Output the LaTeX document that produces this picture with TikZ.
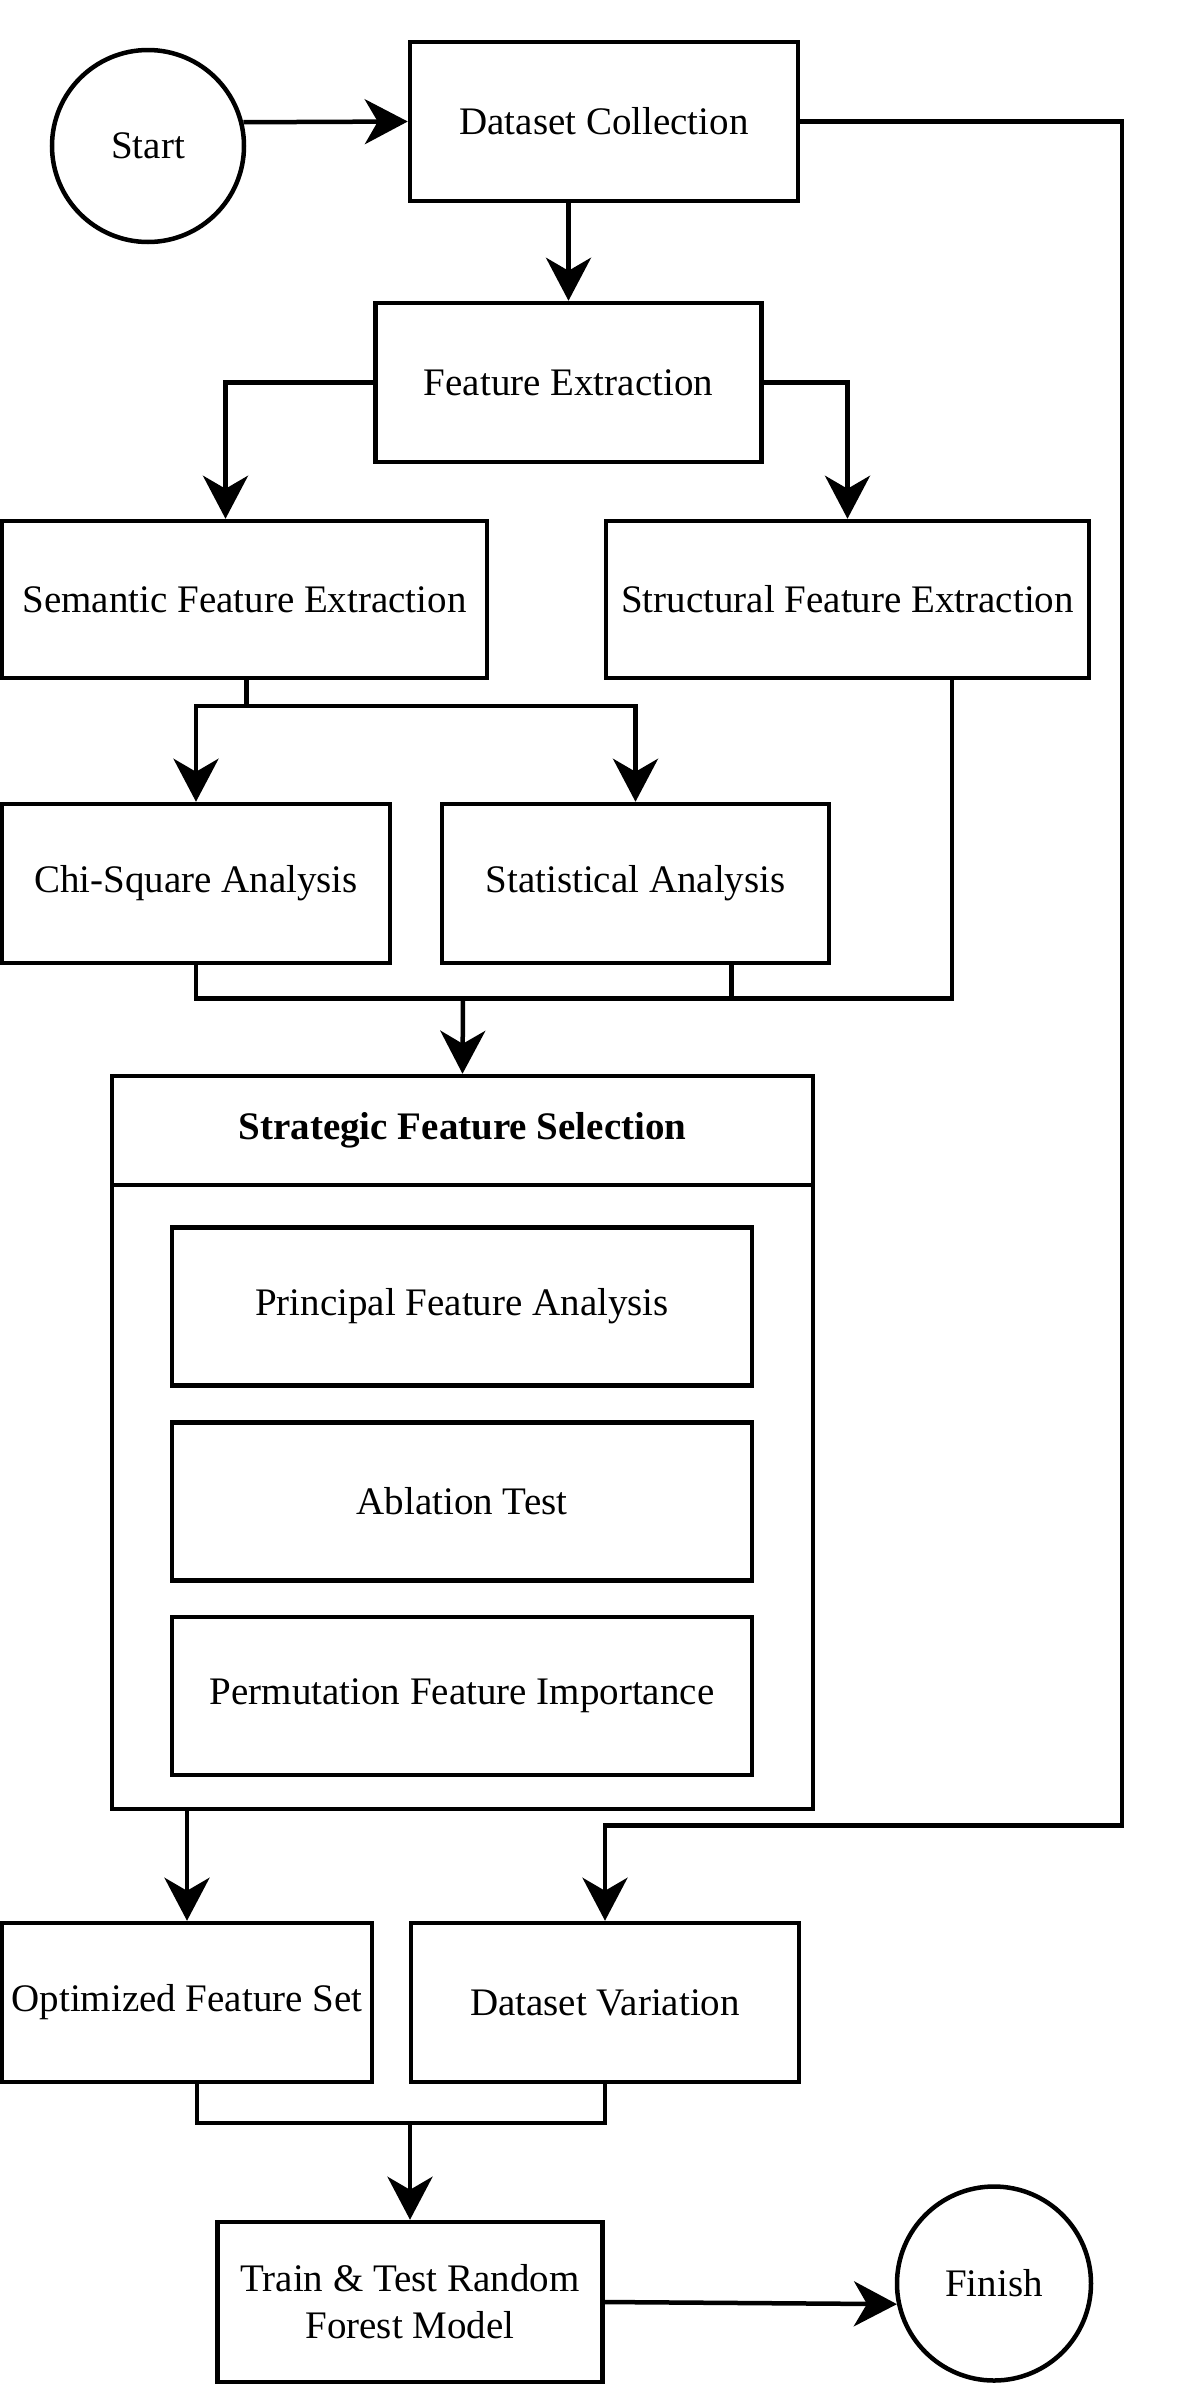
\documentclass[tikz,border=0pt]{standalone}
\usepackage{fontspec}
\setmainfont{Liberation Serif}
\usetikzlibrary{arrows.meta,positioning}

\tikzset{every picture/.style={line width=4.5pt}}
\tikzset{
    stepbox/.style={draw, rectangle, align=center, inner sep=0pt},
    termnode/.style={draw, circle, inner sep=0pt},
    flowarrow/.style={-{Stealth[length=43pt,width=45pt,inset=13pt]}},
}

\begin{document}
\begin{tikzpicture}[x=1pt,y=1pt,yscale=-1,xscale=1,font=\fontsize{39}{47}\selectfont]
    \useasboundingbox (0,0) rectangle (1181,2388);

    %Shape: Circle [start]
    \node (start) at (148,146) [termnode, minimum size=192pt] {Start};
    %Shape: Rectangle [dataset]
    \node (dataset) at (604,121.5) [stepbox, minimum width=388pt, minimum height=159pt] {Dataset Collection};
    %Shape: Rectangle [feature]
    \node (feature) at (568.5,382.5) [stepbox, minimum width=386pt, minimum height=159pt] {Feature Extraction};
    %Shape: Rectangle [semantic]
    \node (semantic) at (244.5,599.5) [stepbox, minimum width=485pt, minimum height=157pt] {Semantic Feature Extraction};
    %Shape: Rectangle [structural]
    \node (structural) at (847.5,599.5) [stepbox, minimum width=483pt, minimum height=157pt] {Structural Feature Extraction};
    %Shape: Rectangle [chi]
    \node (chi) at (196,883.5) [stepbox, minimum width=388pt, minimum height=159pt] {Chi-Square Analysis};
    %Shape: Rectangle [stat]
    \node (stat) at (635.5,883.5) [stepbox, minimum width=387pt, minimum height=159pt] {Statistical Analysis};

    %Shape: Rectangle [strategic block]
    \node (strattitle) at (462.5,1130.5) [stepbox, minimum width=701pt, minimum height=109pt] {\textbf{Strategic Feature Selection}};
    \node (stratbody) at (462.5,1497) [stepbox, minimum width=701pt, minimum height=624pt] {};
    \node (pfa) at (462,1306.5) [stepbox, minimum width=580pt, minimum height=158pt] {Principal Feature Analysis};
    \node (ablation) at (462,1501.5) [stepbox, minimum width=580pt, minimum height=158pt] {Ablation Test};
    \node (pfi) at (462,1696) [stepbox, minimum width=580pt, minimum height=158pt] {Permutation Feature Importance};

    %Shape: Rectangle [opt]
    \node (opt) at (187,2002.5) [stepbox, minimum width=370pt, minimum height=159pt] {Optimized Feature Set};
    %Shape: Rectangle [dv]
    \node (dv) at (605,2002.5) [stepbox, minimum width=388pt, minimum height=159pt] {Dataset Variation};
    %Shape: Rectangle [train]
    \node (train) at (410,2302) [stepbox, minimum width=385pt, minimum height=160pt] {Train \& Test Random\\Forest Model};
    %Shape: Circle [finish]
    \node (finish) at (994,2283.5) [termnode, minimum size=194pt] {Finish};

    %Straight Lines
    \draw [flowarrow] (start.14) -- (dataset.west);
    \draw [flowarrow] (dataset.south -| feature.north) -- (feature.north);
    \draw [flowarrow] (feature.west) -| ([xshift=-19pt]semantic.north);
    \draw [flowarrow] (feature.east) -| (structural.north);

    % split below semantic
    \coordinate (semsplit) at (246.5,706);
    \draw (semsplit |- semantic.south) -- (semsplit);
    \draw [flowarrow] (semsplit) -| (chi.north);
    \draw [flowarrow] (semsplit) -| (stat.north);

    % merge into strategic selection
    \coordinate (mergeA) at (463,998.5);
    \draw (chi.south) |- (mergeA);
    \draw ([xshift=96pt]stat.south) |- (mergeA);
    \draw ([xshift=104.5pt]structural.south) |- (mergeA);
    \draw [flowarrow] (mergeA) -- (strattitle.north);

    \draw [flowarrow] (stratbody.south -| opt.north) -- (opt.north);

    % long line on the right
    \coordinate (rightrail) at (1122,1825.5);
    \draw [flowarrow] (dataset.east) -| (rightrail) -| (dv.north);

    % merge into training
    \coordinate (mergeB) at (410,2123);
    \draw ([xshift=10pt]opt.south) |- (mergeB);
    \draw (dv.south) |- (mergeB);
    \draw [flowarrow] (mergeB) -- (train.north);

    \draw [flowarrow] (train.east) -- (finish.192);
\end{tikzpicture}
\end{document}
